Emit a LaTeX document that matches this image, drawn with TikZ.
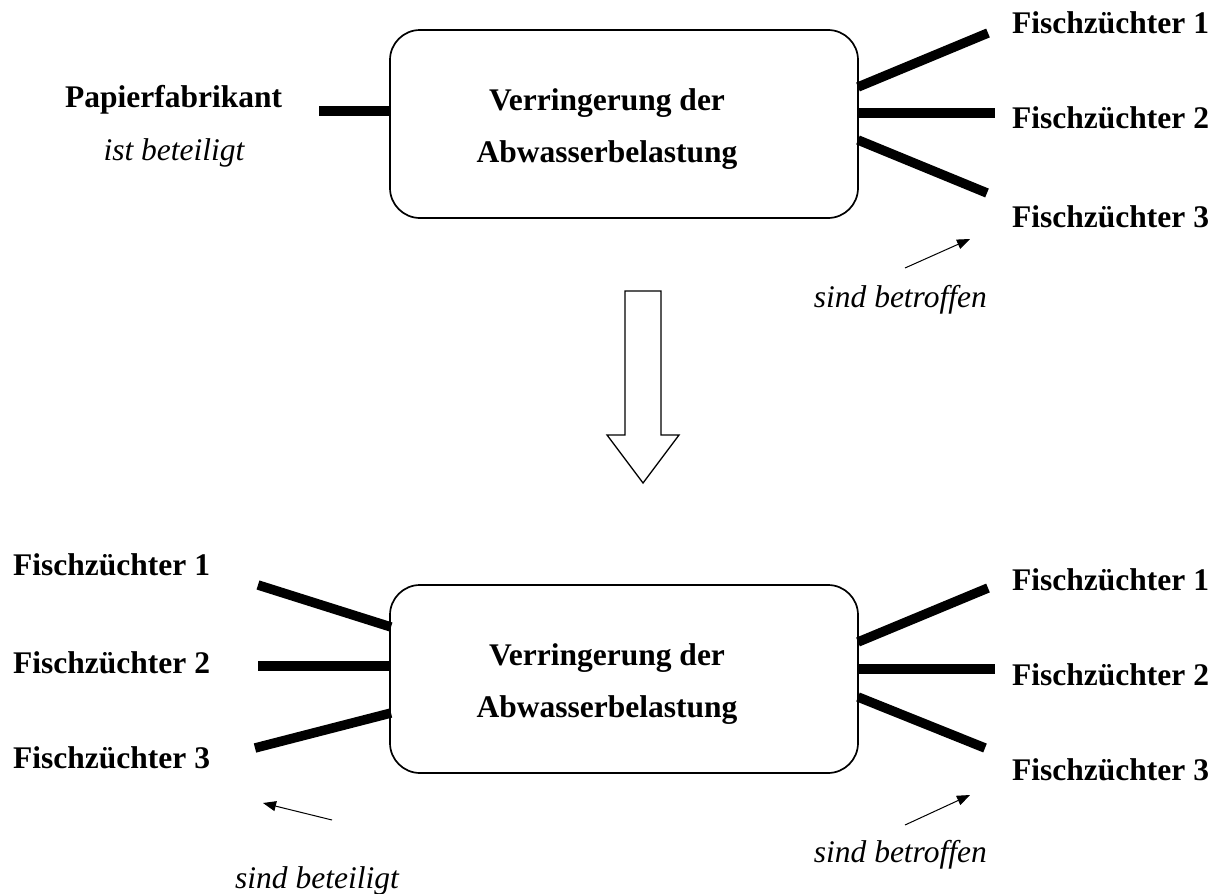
\documentclass[tikz,border=0pt]{standalone}
\usepackage{fontspec}
\setmainfont{Liberation Serif}
\usetikzlibrary{arrows.meta}
\begin{document}
\begin{tikzpicture}[x=1pt,y=-1pt,
  box/.style={draw, line width=1.7pt, rounded corners=30pt, minimum width=468pt, minimum height=188pt, inner sep=0pt},
  bold/.style={font=\fontsize{31.5}{38}\selectfont\bfseries, inner sep=0pt},
  ital/.style={font=\fontsize{31.5}{38}\selectfont\itshape, inner sep=0pt},
  bar/.style={line width=9.5pt, line cap=butt},
  pointer/.style={line width=1pt, -{Triangle[length=13pt,width=10pt]}},
  blockarrow/.style={draw, line width=1.3pt, fill=white, line join=miter}]
\useasboundingbox (0,0) rectangle (1224,894);

% ---------- top part ----------
\node[box] (top) at (624,124) {};
\node[bold, anchor=base] (t1) at (607,110) {Verringerung der};
\node[bold, anchor=base] (t2) at (607,162) {Abwasserbelastung};

\node[bold, anchor=base west] (pap) at (65,107) {Papierfabrikant};
\node[ital, anchor=base] (ist) at (174,160) {ist beteiligt};
\coordinate (pe) at (319,111);
\draw[bar] (pe) -- (top.west |- pe);

\node[bold, anchor=base west] (tr1) at (1012,33) {Fischzüchter 1};
\node[bold, anchor=base west] (tr2) at (1012,128) {Fischzüchter 2};
\node[bold, anchor=base west] (tr3) at (1012,227) {Fischzüchter 3};
\coordinate (ts1) at (858,87);  \coordinate (te1) at (988,33);
\coordinate (ts2) at (858,113); \coordinate (te2) at (995,113);
\coordinate (ts3) at (858,140); \coordinate (te3) at (987,193);
\draw[bar] (ts1) -- (te1);
\draw[bar] (ts2) -- (te2);
\draw[bar] (ts3) -- (te3);

\node[ital, anchor=base east] (tbet) at (987,307) {sind betroffen};
\coordinate (ta0) at (905,268); \coordinate (ta1) at (970,239);
\draw[pointer] (ta0) -- (ta1);

% ---------- block arrow ----------
\draw[blockarrow] (625,291) -- (661,291) -- (661,435) -- (679,435) -- (643,483)
  -- (607,435) -- (625,435) -- cycle;

% ---------- bottom part ----------
\node[box] (bot) at (624,679) {};
\node[bold, anchor=base] (b1) at (607,665) {Verringerung der};
\node[bold, anchor=base] (b2) at (607,717) {Abwasserbelastung};

\node[bold, anchor=base west] (bl1) at (13,575) {Fischzüchter 1};
\node[bold, anchor=base west] (bl2) at (13,673) {Fischzüchter 2};
\node[bold, anchor=base west] (bl3) at (13,768) {Fischzüchter 3};
\coordinate (ls1) at (258,585); \coordinate (le1) at (391,627);
\coordinate (ls2) at (258,666); \coordinate (le2) at (391,666);
\coordinate (ls3) at (255,748); \coordinate (le3) at (391,713);
\draw[bar] (ls1) -- (le1);
\draw[bar] (ls2) -- (le2);
\draw[bar] (ls3) -- (le3);
\node[ital, anchor=base west] (bbet) at (235,888) {sind beteiligt};
\coordinate (la0) at (332,820); \coordinate (la1) at (263,803);
\draw[pointer] (la0) -- (la1);

\node[bold, anchor=base west] (br1) at (1012,590) {Fischzüchter 1};
\node[bold, anchor=base west] (br2) at (1012,685) {Fischzüchter 2};
\node[bold, anchor=base west] (br3) at (1012,780) {Fischzüchter 3};
\coordinate (rs1) at (858,642); \coordinate (re1) at (988,588);
\coordinate (rs2) at (858,669); \coordinate (re2) at (995,669);
\coordinate (rs3) at (858,697); \coordinate (re3) at (985,748);
\draw[bar] (rs1) -- (re1);
\draw[bar] (rs2) -- (re2);
\draw[bar] (rs3) -- (re3);
\node[ital, anchor=base east] (bbt) at (987,862) {sind betroffen};
\coordinate (ra0) at (905,825); \coordinate (ra1) at (970,795);
\draw[pointer] (ra0) -- (ra1);
\end{tikzpicture}
\end{document}
